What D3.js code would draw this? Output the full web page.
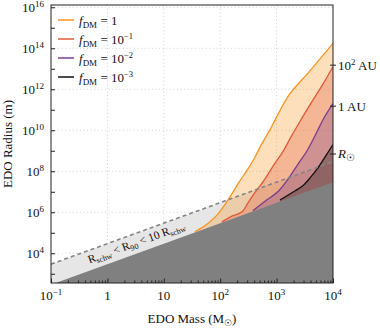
<!DOCTYPE html>
<html>
<head>
<meta charset="utf-8">
<script src="https://d3js.org/d3.v7.min.js"></script>
<style>
  body { margin: 0; background: #fff; }
  text { font-family: "Liberation Serif", "DejaVu Serif", serif; fill: #111; }
</style>
</head>
<body>
<svg id="chart" width="380" height="332"></svg>
<script>
// EDO mass (M_sun) and radius (m)
const massF1 = [35.5, 40.7, 93.3, 138, 209, 316, 417, 513, 759, 1585, 3631, 10000];
const radiusF1 = [1.12e5, 1.38e5, 8.91e5, 3.98e6, 2.57e7, 1.41e8, 5.13e8, 1.58e9, 1.05e10, 4.37e11, 6.31e12, 1.74e14];

const massF01 = [107, 158, 251, 309, 447, 513, 1023, 1288, 1862, 2630, 3631, 6457, 10000];
const radiusF01 = [3.39e5, 6.31e5, 1.12e6, 2.82e6, 1.23e7, 2.0e7, 3.55e8, 8.91e8, 5.62e9, 2.82e10, 1.26e11, 1.58e12, 1.26e13];

const massF001 = [380, 631, 1096, 1585, 2399, 3467, 5248, 6457, 10000];
const radiusF001 = [1.2e6, 3.55e6, 1.12e7, 3.98e7, 2.24e8, 1e9, 8.91e9, 2.82e10, 2.0e11];

const massF0001 = [1148, 2138, 2951, 3981, 5370, 7244, 10000];
const radiusF0001 = [3.98e6, 1.12e7, 2.0e7, 5.01e7, 1.41e8, 5.01e8, 2.0e9];

// Schwarzschild radius line and 10x that line (end points)
const schwMass = [0.1, 10000];
const schwRadius = [295, 2.95e7];
const schw10Radius = [2950, 2.95e8];

const series = [
  { exp: null, mass: massF1, radius: radiusF1, color: "#f7941d" },
  { exp: "−1", mass: massF01, radius: radiusF01, color: "#e0583a" },
  { exp: "−2", mass: massF001, radius: radiusF001, color: "#7b3d8c" },
  { exp: "−3", mass: massF0001, radius: radiusF0001, color: "#111111" }
];

const xTickExps = [-1, 0, 1, 2, 3, 4];
const yTickExps = [4, 6, 8, 10, 12, 14, 16];
const rightTicks = [
  { value: 1.496e13, label: "10", sup: "2", unit: " AU" },
  { value: 1.496e11, label: "1 AU" },
  { value: 6.96e8, label: "R☉", italic: true }
];

const margin = { top: 5, right: 47, bottom: 49, left: 51 },
      width = 380 - margin.left - margin.right,
      height = 332 - margin.top - margin.bottom;

const svg = d3.select("#chart")
  .append("g")
  .attr("transform", `translate(${margin.left},${margin.top})`);

const x = d3.scaleLog().domain([0.1, 1e4]).range([0, width]);
const y = d3.scaleLog().domain([Math.pow(10, 2.55), Math.pow(10, 16.11)]).range([height, 0]);

svg.append("defs").append("clipPath").attr("id", "clip")
  .append("rect").attr("width", width).attr("height", height);

// grid
const grid = svg.append("g");
[1, 10, 100, 1000].forEach(v => {
  grid.append("line").attr("x1", x(v)).attr("x2", x(v)).attr("y1", 0).attr("y2", height)
    .attr("stroke", "#c4c4c4").attr("stroke-width", 0.8).attr("stroke-dasharray", "1,2.6");
});
yTickExps.forEach(e => {
  grid.append("line").attr("x1", 0).attr("x2", width).attr("y1", y(Math.pow(10, e))).attr("y2", y(Math.pow(10, e)))
    .attr("stroke", "#c4c4c4").attr("stroke-width", 0.8).attr("stroke-dasharray", "1,2.6");
});

const plot = svg.append("g").attr("clip-path", "url(#clip)");

// light band between R_schw and 10 R_schw
const bandData = schwMass.map((m, i) => ({ m, lo: schwRadius[i], hi: schw10Radius[i] }));
plot.append("path").datum(bandData)
  .attr("fill", "#e6e6e6")
  .attr("d", d3.area().x(d => x(d.m)).y0(d => y(d.lo)).y1(d => y(d.hi)));

// filled regions under each curve
series.forEach(s => {
  const pts = s.mass.map((m, i) => ({ m, r: s.radius[i] }));
  s.pts = pts;
  plot.append("path").datum(pts)
    .attr("fill", s.color).attr("fill-opacity", 0.3)
    .attr("d", d3.area().curve(d3.curveMonotoneX).x(d => x(d.m)).y0(height).y1(d => y(d.r)));
});

series.forEach(s => {
  plot.append("path").datum(s.pts)
    .attr("fill", "none").attr("stroke", s.color).attr("stroke-width", 1.3)
    .attr("d", d3.line().curve(d3.curveMonotoneX).x(d => x(d.m)).y(d => y(d.r)));
});

// region below Schwarzschild radius
const schwData = schwMass.map((m, i) => ({ m, r: schwRadius[i] }));
plot.append("path").datum(schwData)
  .attr("fill", "#808080")
  .attr("d", d3.area().x(d => x(d.m)).y0(height + 5).y1(d => y(d.r)));

// dashed 10 R_schw line
plot.append("path").datum(bandData)
  .attr("fill", "none").attr("stroke", "#858585").attr("stroke-width", 1.6)
  .attr("stroke-dasharray", "4,3")
  .attr("d", d3.line().x(d => x(d.m)).y(d => y(d.hi)));

// band label
{
  const m0 = 3.3;
  const rMid = Math.sqrt(2953 * m0 * 29530 * m0);
  const ang = Math.atan2(y(schw10Radius[1]) - y(schw10Radius[0]), x(schwMass[1]) - x(schwMass[0])) * 180 / Math.PI;
  const t = svg.append("text")
    .attr("transform", `translate(${x(m0)},${y(rMid)}) rotate(${ang}) translate(0,3)`)
    .attr("text-anchor", "middle")
    .style("font-size", "11.5px");
  t.append("tspan").text("R");
  t.append("tspan").attr("dy", 2.5).style("font-size", "8px").text("schw");
  t.append("tspan").attr("dy", -2.5).text(" < R");
  t.append("tspan").attr("dy", 2.5).style("font-size", "8px").text("90");
  t.append("tspan").attr("dy", -2.5).text(" < 10 R");
  t.append("tspan").attr("dy", 2.5).style("font-size", "8px").text("schw");
}

// frame
svg.append("rect").attr("width", width).attr("height", height)
  .attr("fill", "none").attr("stroke", "#222").attr("stroke-width", 1);

// x ticks (inward)
const xMinor = [];
for (let e = -1; e < 4; e++) for (let k = 2; k <= 9; k++) xMinor.push(k * Math.pow(10, e));
svg.append("g").attr("transform", `translate(0,${height})`)
  .call(d3.axisBottom(x).tickValues(xTickExps.map(e => Math.pow(10, e))).tickSize(-4.5).tickFormat(""))
  .call(g => g.select(".domain").remove())
  .selectAll("line").attr("stroke", "#222");
svg.append("g").attr("transform", `translate(0,${height})`)
  .call(d3.axisBottom(x).tickValues(xMinor).tickSize(-2.5).tickFormat(""))
  .call(g => g.select(".domain").remove())
  .selectAll("line").attr("stroke", "#222");

// y ticks (inward) every decade
const yAll = d3.range(3, 17).map(e => Math.pow(10, e));
svg.append("g")
  .call(d3.axisLeft(y).tickValues(yAll).tickSize(-4).tickFormat(""))
  .call(g => g.select(".domain").remove())
  .selectAll("line").attr("stroke", "#222");

function powLabel(t, exp) {
  t.append("tspan").text("10");
  t.append("tspan").attr("dy", -5).style("font-size", "9px").text(exp);
}

// x tick labels
xTickExps.forEach(e => {
  const t = svg.append("text")
    .attr("x", x(Math.pow(10, e))).attr("y", height + 17)
    .attr("text-anchor", "middle").style("font-size", "13px");
  if (e === 0) t.text("1");
  else if (e === 1) t.text("10");
  else powLabel(t, e === -1 ? "−1" : String(e));
});

// y tick labels
yTickExps.forEach(e => {
  const t = svg.append("text")
    .attr("x", -7).attr("y", y(Math.pow(10, e)) + 5)
    .attr("text-anchor", "end").style("font-size", "13px");
  powLabel(t, String(e));
});

// right ticks and labels
rightTicks.forEach(d => {
  const yy = y(d.value);
  svg.append("line").attr("x1", width - 3).attr("x2", width + 3)
    .attr("y1", yy).attr("y2", yy).attr("stroke", "#222");
  const t = svg.append("text").attr("x", width + 5).attr("y", yy + 4.5).style("font-size", "13px");
  if (d.sup) {
    t.append("tspan").text(d.label);
    t.append("tspan").attr("dy", -5).style("font-size", "9px").text(d.sup);
    t.append("tspan").attr("dy", 5).text(d.unit);
  } else if (d.italic) {
    t.append("tspan").style("font-style", "italic").text("R");
    t.append("tspan").attr("dy", 3).style("font-size", "10px").text("☉");
  } else {
    t.text(d.label);
  }
});

// axis titles
const xt = svg.append("text")
  .attr("x", width / 2).attr("y", height + 40)
  .attr("text-anchor", "middle").style("font-size", "13px");
xt.append("tspan").text("EDO Mass (M");
xt.append("tspan").attr("dy", 3).style("font-size", "9px").text("☉");
xt.append("tspan").attr("dy", -3).text(")");

svg.append("text")
  .attr("transform", `translate(-39,${height / 2}) rotate(-90)`)
  .attr("text-anchor", "middle").style("font-size", "13px")
  .text("EDO Radius (m)");

// legend
const legend = svg.append("g").attr("transform", "translate(7,15)");
series.forEach((s, i) => {
  const g = legend.append("g").attr("transform", `translate(0,${i * 19})`);
  g.append("line").attr("x1", 0).attr("x2", 16).attr("y1", 0).attr("y2", 0)
    .attr("stroke", s.color).attr("stroke-width", 1.5);
  const t = g.append("text").attr("x", 21).attr("y", 4.5).style("font-size", "13px");
  t.append("tspan").style("font-style", "italic").text("f");
  t.append("tspan").attr("dy", 3).style("font-size", "9px").text("DM");
  if (s.exp === null) {
    t.append("tspan").attr("dy", -3).text(" = 1");
  } else {
    t.append("tspan").attr("dy", -3).text(" = 10");
    t.append("tspan").attr("dy", -5).style("font-size", "8.5px").text(s.exp);
  }
});
</script>
</body>
</html>
